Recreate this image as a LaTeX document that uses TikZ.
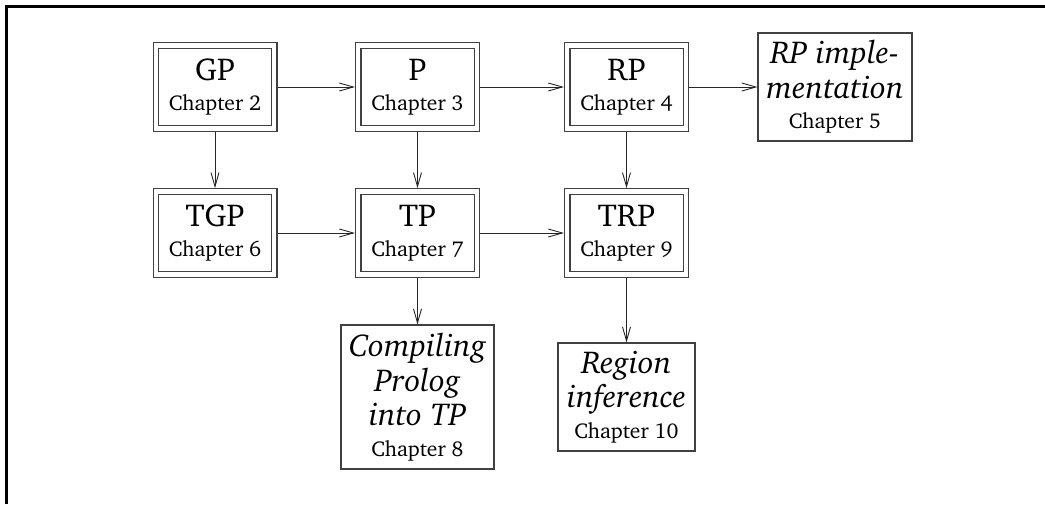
\documentclass[tikz,border=0pt]{standalone}
\usepackage[T1]{fontenc}
\usepackage{charter}
\usetikzlibrary{arrows.meta}

\newcommand\ttlsize{\fontsize{31.7}{34.5}\selectfont}
\newcommand\chp{\fontsize{21.5}{25}\selectfont}

\tikzset{
  dbox/.style={draw=black!75, line width=1.1pt, double=white, double distance=4.3pt,
    minimum width=118.5pt, minimum height=83pt, inner sep=0pt, outer sep=3.3pt,
    align=center, font=\ttlsize},
  sbox/.style={draw=black!75, line width=1.1pt, inner sep=0pt, outer sep=0.5pt,
    align=center, font=\ttlsize},
  link/.style={-{Straight Barb[length=14pt,width=8pt]}, line width=0.9pt, draw=black!85},
  frameline/.style={line width=3pt, draw=black},
}

\begin{document}
\begin{tikzpicture}[x=1pt, y=-1pt]
  \useasboundingbox (0,0) rectangle (1045,504);
  \draw[frameline] (6.5,504) -- (6.5,6.5) -- (1045,6.5);

  % first row
  \node[dbox] (gp)  at (215,87)   {GP\\[-4pt]{\chp Chapter 2}};
  \node[dbox] (p)   at (417.5,87) {P\\[-4pt]{\chp Chapter 3}};
  \node[dbox] (rp)  at (626.5,87) {RP\\[-4pt]{\chp Chapter 4}};
  \node[sbox, minimum width=154pt, minimum height=108pt] (rpi) at (835,87)
    {\itshape RP imple-\\\itshape mentation\\[-4pt]{\chp Chapter 5}};

  % second row
  \node[dbox] (tgp) at (215,233)   {TGP\\[-4pt]{\chp Chapter 6}};
  \node[dbox] (tp)  at (417.5,233) {TP\\[-4pt]{\chp Chapter 7}};
  \node[dbox] (trp) at (626.5,233) {TRP\\[-4pt]{\chp Chapter 9}};

  % third row
  \node[sbox, minimum width=153pt, minimum height=144pt] (cp) at (417.5,397)
    {\itshape Compiling\\\itshape Prolog\\\itshape into TP\\[-4pt]{\chp Chapter 8}};
  \node[sbox, minimum width=137pt, minimum height=108pt] (ri) at (626.5,397)
    {\itshape Region\\\itshape inference\\[-4pt]{\chp Chapter 10}};

  % dependencies
  \draw[link] (gp) -- (p);
  \draw[link] (p) -- (rp);
  \draw[link] (rp) -- (rpi);
  \draw[link] (gp) -- (tgp);
  \draw[link] (p) -- (tp);
  \draw[link] (rp) -- (trp);
  \draw[link] (tgp) -- (tp);
  \draw[link] (tp) -- (trp);
  \draw[link] (tp) -- (cp);
  \draw[link] (trp) -- (ri);
\end{tikzpicture}
\end{document}
